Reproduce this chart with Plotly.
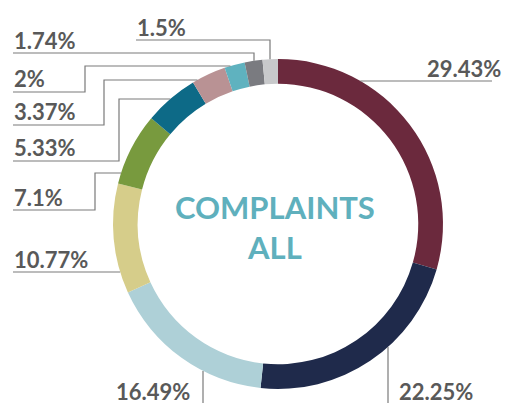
import math
import plotly.graph_objects as go

# ---- data ----
categories = ["C1", "C2", "C3", "C4", "C5", "C6", "C7", "C8", "C9", "C10"]
values = [29.43, 22.25, 16.49, 10.77, 7.1, 5.33, 3.37, 2, 1.74, 1.5]
labels = ["29.43%", "22.25%", "16.49%", "10.77%", "7.1%", "5.33%", "3.37%", "2%", "1.74%", "1.5%"]
colors = ["#6b293d", "#1f2a4b", "#aed0d7", "#d6cd8a", "#789a3e",
          "#0d6a87", "#b99294", "#5fb2bf", "#7a7b80", "#c8c9cb"]
center_title = ["COMPLAINTS", "ALL"]

# ---- layout (pixels) ----
W, H = 506, 403
CX, CY, R = 278, 224, 165
HOLE = 0.85

# label text position + leader polyline (last segment runs to the ring)
label_layout = [
    dict(tx=503, ty=68, xa="right", pts=[(492, 81)], d="h"),
    dict(tx=397, ty=391, xa="left", pts=[(388, 410)], d="v"),
    dict(tx=192, ty=391, xa="right", pts=[(203, 410)], d="v"),
    dict(tx=12, ty=259, xa="left", pts=[(13, 272)], d="h"),
    dict(tx=12, ty=197, xa="left", pts=[(13, 210), (95, 210), (95, 173)], d="h"),
    dict(tx=12, ty=147, xa="left", pts=[(13, 161), (119, 161), (119, 99)], d="h"),
    dict(tx=12, ty=112, xa="left", pts=[(13, 125), (104, 125), (104, 80)], d="h"),
    dict(tx=12, ty=79, xa="left", pts=[(13, 92), (85, 92), (85, 66)], d="h"),
    dict(tx=12, ty=40, xa="left", pts=[(13, 53), (254, 53)], d="v"),
    dict(tx=135, ty=28, xa="left", pts=[(136, 40), (270, 40)], d="v"),
]


def px(x):
    return x / W


def py(y):
    return 1 - y / H


def ring_point(p, d):
    x, y = p
    if d == "h":
        s = math.sqrt(max(R * R - (y - CY) ** 2, 0))
        cands = [CX - s, CX + s]
        xe = min(cands, key=lambda c: abs(c - x))
        return (xe, y)
    s = math.sqrt(max(R * R - (x - CX) ** 2, 0))
    cands = [CY - s, CY + s]
    ye = min(cands, key=lambda c: abs(c - y))
    return (x, ye)


fig = go.Figure(go.Pie(
    labels=categories,
    values=values,
    hole=HOLE,
    sort=False,
    direction="clockwise",
    rotation=0,
    marker=dict(colors=colors, line=dict(width=0)),
    textinfo="none",
    hoverinfo="label+value",
    showlegend=False,
    domain=dict(x=[px(CX - R), px(CX + R)], y=[py(CY + R), py(CY - R)]),
))

shapes = []
annotations = []
for lab, lay in zip(labels, label_layout):
    pts = list(lay["pts"]) + [ring_point(lay["pts"][-1], lay["d"])]
    path = "M " + " L ".join(f"{px(x):.5f},{py(y):.5f}" for x, y in pts)
    shapes.append(dict(type="path", path=path, xref="paper", yref="paper",
                       line=dict(color="#7a7a7a", width=1.2)))
    annotations.append(dict(
        text=f"<b>{lab}</b>", x=px(lay["tx"]), y=py(lay["ty"]),
        xref="paper", yref="paper", xanchor=lay["xa"], yanchor="middle",
        showarrow=False, font=dict(family="Lato", size=22, color="#595959"),
    ))

annotations.append(dict(
    text="<b>" + "<br>".join(center_title) + "</b>",
    x=px(CX - 3), y=py(227), xref="paper", yref="paper",
    xanchor="center", yanchor="middle", showarrow=False,
    font=dict(family="Lato", size=31, color="#5fb0bd"),
))

fig.update_layout(
    width=W, height=H,
    margin=dict(l=0, r=0, t=0, b=0),
    paper_bgcolor="white",
    plot_bgcolor="white",
    shapes=shapes,
    annotations=annotations,
)

fig.write_html(
    "out.html",
    config={"displayModeBar": False},
    post_script="document.body.style.margin='0';document.body.style.overflow='hidden';",
)
